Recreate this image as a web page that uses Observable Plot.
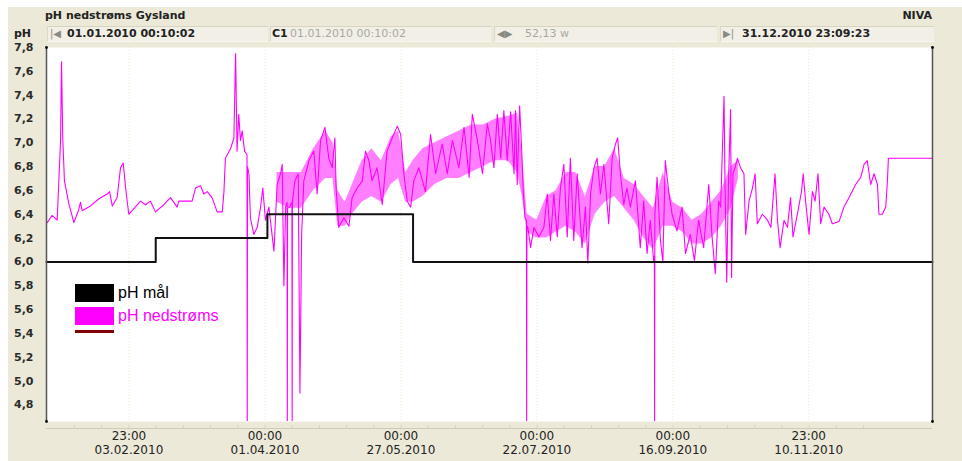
<!DOCTYPE html>
<html><head><meta charset="utf-8">
<script src="https://cdn.jsdelivr.net/npm/d3@7"></script>
<script src="https://cdn.jsdelivr.net/npm/@observablehq/plot@0.6"></script>
<style>
html,body{margin:0;padding:0;background:#fff;}
#wrap{position:relative;width:962px;height:461px;overflow:hidden;font-family:"DejaVu Sans",sans-serif;}
#panel{position:absolute;left:8px;top:7px;width:954px;height:454px;background:#ECE9D8;}
.t{position:absolute;white-space:nowrap;font-size:11px;font-weight:bold;color:#222;line-height:14px;}
.g{color:#a9a8a0;font-weight:normal;}
.ic{color:#8a8a84;font-size:10px;font-weight:normal;}
.box{position:absolute;top:26px;height:14px;background:#F2F0E6;border-top:1px solid #d8d4c2;border-bottom:1px solid #f8f7f0;border-left:1px solid #dcd8c8;}
#chart{position:absolute;left:0;top:40px;}
#legend{position:absolute;left:75px;top:284px;width:170px;height:49px;overflow:hidden;font-family:"Liberation Sans",Arial,sans-serif;font-size:16px;}
.li{height:18px;margin-bottom:5px;display:flex;align-items:center;white-space:nowrap;}
.sw{width:39px;height:18px;margin-right:4px;flex:none;}
</style>
</head><body>
<div id="wrap">
  <div id="panel"></div>
  <div class="t" style="left:45px;top:9px;">pH nedstrøms Gysland</div>
  <div class="t" style="right:30px;top:9px;">NIVA</div>
  <div class="t" style="left:14px;top:27px;">pH</div>
  <div class="box" style="left:47px;width:220px;"></div>
  <div class="box" style="left:270px;width:220px;"></div>
  <div class="box" style="left:494px;width:222px;"></div>
  <div class="box" style="left:720px;width:213px;"></div>
  <div class="t ic" style="left:50px;top:27px;">|◀</div>
  <div class="t" style="left:67px;top:27px;">01.01.2010 00:10:02</div>
  <div class="t" style="left:272px;top:27px;">C1</div>
  <div class="t g" style="left:290px;top:27px;">01.01.2010 00:10:02</div>
  <div class="t ic" style="left:497px;top:27px;">◀▶</div>
  <div class="t g" style="left:525px;top:27px;">52,13 w</div>
  <div class="t ic" style="left:723px;top:27px;">▶|</div>
  <div class="t" style="left:742px;top:27px;">31.12.2010 23:09:23</div>
  <div id="chart"></div>
  <div id="legend">
    <div class="li"><div class="sw" style="background:#000"></div><span style="color:#000">pH mål</span></div>
    <div class="li"><div class="sw" style="background:#ff00ff"></div><span style="color:#ff00ff">pH nedstrøms</span></div>
    <div class="li"><div class="sw" style="background:#800000"></div></div>
  </div>
</div>
<script>
// ---- data (days since 2010-01-01 00:00, pH) ----
const phDay = [0.3,2.3,4.4,5.8,6.2,6.7,7.4,9.2,11.3,13.3,14.0,14.7,18.1,21.6,25.0,26.0,27.1,29.1,30.5,31.6,32.6,33.9,35.3,38.7,40.8,42.8,44.9,48.3,51.1,53.8,54.5,60.0,61.4,63.4,64.8,66.2,68.2,70.3,72.4,73.1,73.7,75.8,77.2,77.9,78.5,79.2,79.9,80.6,81.6,82.6,82.7,82.8,83.4,84.0,85.4,86.8,88.2,89.1,90.2,
91.6,93.7,95.0,96.4,97.1,97.8,98.5,99.1,99.2,99.3,100.1,101.1,101.2,101.3,102.3,103.7,104.4,105.1,106.0,108.1,110.1,111.5,112.9,114.7,116.3,117.7,118.8,119.3,120.4,122.5,124.6,125.9,128.0,130.1,131.4,132.8,134.1,136.2,138.3,140.3,142.4,144.5,145.9,147.2,148.6,150.0,151.3,153.4,156.1,158.2,160.3,163.0,165.1,167.2,169.9,172.0,174.1,175.4,177.5,179.6,181.6,
182.9,184.3,185.7,187.1,188.4,189.8,191.2,192.6,193.2,193.9,194.9,195.7,196.4,197.1,197.7,197.8,197.9,198.3,199.4,200.8,202.8,204.9,206.3,207.6,209.0,210.4,211.7,213.1,214.5,215.8,217.2,218.6,220.6,222.0,223.0,224.1,225.5,226.8,228.2,229.6,231.6,233.0,234.4,235.3,236.4,237.8,239.1,240.5,242.6,244.6,246.0,247.4,248.7,250.1,250.4,250.5,250.6,251.5,252.9,253.9,254.9,256.3,257.7,259.7,261.8,263.2,265.2,266.9,268.6,270.7,272.8,274.1,275.5,276.9,
277.7,278.4,279.1,279.5,280.2,280.9,281.8,282.2,282.8,283.6,284.6,285.9,287.3,288.0,289.4,290.8,291.9,292.8,294.9,297.0,298.4,300.1,301.1,302.2,303.8,305.2,306.5,307.5,309.3,311.0,311.7,312.7,314.1,315.5,316.6,317.8,318.9,320.3,322.3,323.7,326.5,328.5,330.6,333.3,335.4,336.8,338.1,339.5,340.9,342.3,342.9,344.3,345.7,346.4,346.8,349.8,364.96];
const phValue = [6.33,6.39,6.35,7.02,7.68,7.04,6.68,6.49,6.33,6.44,6.50,6.43,6.47,6.53,6.57,6.59,6.47,6.54,6.79,6.83,6.62,6.40,6.43,6.51,6.48,6.51,6.42,6.48,6.54,6.46,6.51,6.51,6.62,6.64,6.57,6.59,6.54,6.42,6.42,6.59,6.87,6.95,7.04,7.75,6.93,7.24,7.02,7.10,6.93,6.90,4.60,6.80,6.74,6.37,6.23,6.29,6.46,6.62,6.35,
6.46,6.09,6.65,6.74,6.82,5.80,6.46,6.50,4.60,6.45,6.46,6.50,4.60,6.50,6.68,6.74,4.90,6.23,6.68,6.85,6.93,6.57,7.02,7.13,6.87,6.79,7.04,6.62,6.29,6.37,6.30,6.54,6.62,6.68,6.93,6.85,6.68,6.79,6.48,6.93,7.04,7.14,7.07,6.74,6.51,6.46,6.68,6.79,6.59,7.07,6.74,6.99,6.74,7.02,6.79,7.13,6.71,7.24,7.02,6.74,7.16,
7.02,6.79,7.24,6.87,7.27,6.85,7.26,6.74,7.27,6.65,7.31,6.96,6.59,6.37,6.35,4.60,6.30,6.29,6.12,6.29,6.21,6.29,6.57,6.18,6.57,6.21,6.62,6.82,6.21,6.87,6.18,6.74,6.12,6.46,5.99,6.57,6.79,6.87,6.57,6.82,6.32,6.87,6.99,7.04,6.74,6.48,6.62,6.46,6.68,6.12,6.51,6.07,6.35,6.01,6.05,4.60,6.40,6.71,6.18,6.00,6.85,6.59,6.40,6.26,6.46,6.07,6.23,6.01,6.35,6.12,6.65,6.23,5.90,6.51,
6.46,6.93,7.39,6.65,5.83,6.65,7.28,5.87,6.74,6.79,6.87,6.79,6.74,6.23,6.51,6.62,6.74,6.32,6.40,6.35,6.29,6.74,6.35,6.12,6.35,6.29,6.54,6.21,6.40,6.59,6.74,6.51,6.23,6.59,6.51,6.74,6.32,6.46,6.40,6.32,6.34,6.46,6.54,6.65,6.71,6.82,6.85,6.65,6.74,6.65,6.40,6.40,6.46,6.68,6.87,6.87,6.87];

// envelope of the dense, oscillating part of the record
const bandDay  = [95,100,105,110,115,118,120,123,126,130,134,138,142,145,148,151,155,160,165,170,175,180,185,190,194,196,198,202,206,210,214,218,222,226,230,234,238,242,246,250,254,258,262,266,270,274,278,282,285];
const bandLow  = [6.50,6.45,6.45,6.60,6.70,6.70,6.30,6.30,6.40,6.50,6.55,6.50,6.65,6.70,6.50,6.50,6.55,6.65,6.70,6.70,6.75,6.80,6.85,6.85,6.75,6.55,6.25,6.20,6.20,6.25,6.30,6.25,6.15,6.40,6.50,6.55,6.45,6.35,6.20,6.10,6.30,6.30,6.25,6.15,6.15,6.20,6.30,6.45,6.70];
const bandHigh = [6.75,6.75,6.75,6.95,7.10,7.00,6.60,6.50,6.65,6.85,6.95,6.85,7.05,7.10,6.75,6.85,6.95,7.00,7.05,7.10,7.15,7.15,7.20,7.22,7.25,6.90,6.40,6.35,6.55,6.60,6.75,6.75,6.55,6.80,6.80,6.95,6.70,6.65,6.55,6.45,6.75,6.50,6.45,6.35,6.40,6.50,6.60,6.80,6.85];

// pH mål (target), step function
const goalDay   = [0.007, 45, 91, 151, 364.96];
const goalValue = [6.0, 6.2, 6.4, 6.0, 6.0];

// x tick labels
const tickTime = ["23:00","00:00","00:00","00:00","00:00","23:00"];
const tickDate = ["03.02.2010","01.04.2010","27.05.2010","22.07.2010","16.09.2010","10.11.2010"];

// y ticks
const yTicks = [4.8,5.0,5.2,5.4,5.6,5.8,6.0,6.2,6.4,6.6,6.8,7.0,7.2,7.4,7.6,7.8];

// ---- build ----
const t0 = Date.UTC(2010,0,1);
const dayToDate = d => new Date(t0 + d*864e5);
const xStart = new Date(Date.UTC(2010,0,1,0,10,2));
const xEnd = new Date(Date.UTC(2010,11,31,23,9,23));
const yMin = 4.66, yMax = 7.8;

const ph = phDay.map((d,i) => ({x: dayToDate(d), y: phValue[i]}));
const band = bandDay.map((d,i) => ({x: dayToDate(d), lo: bandLow[i], hi: bandHigh[i]}));
const goal = goalDay.map((d,i) => ({x: dayToDate(d), y: goalValue[i]}));
const parseTick = d3.utcParse("%d.%m.%Y %H:%M");
const ticks = tickDate.map((d,i) => ({x: parseTick(d + " " + tickTime[i]), time: tickTime[i], date: tickDate[i]}));
const step = (ticks[1].x - ticks[0].x) / 5;
const minor = d3.range(-2, 28).map(k => new Date(+ticks[0].x + k*step)).filter(d => d >= xStart && d <= xEnd);
const fmtY = d => d3.format(".1f")(d).replace(".", ",");

const chart = Plot.plot({
  width: 962, height: 421,
  marginTop: 7, marginBottom: 40, marginLeft: 46, marginRight: 30,
  style: {background: "transparent", fontFamily: "DejaVu Sans, sans-serif", fontSize: "11px", fontWeight: "bold", color: "#2a2a2a"},
  x: {type: "utc", domain: [xStart, xEnd], axis: null, label: null},
  y: {domain: [yMin, yMax], label: null},
  marks: [
    Plot.frame({fill: "white", stroke: "none"}),
    Plot.ruleX(ticks, {x: "x", stroke: "#efe8c8", strokeDasharray: "1,2"}),
    Plot.areaY(band, {x: "x", y1: "lo", y2: "hi", fill: "#ff00ff", fillOpacity: 0.5}),
    Plot.line(ph, {x: "x", y: "y", stroke: "#ff00ff", strokeWidth: 1.1, clip: true}),
    Plot.line(goal, {x: "x", y: "y", curve: "step-after", stroke: "#111", strokeWidth: 2}),
    Plot.ruleX([xStart, xEnd], {stroke: "#555", strokeWidth: 1.5}),
    Plot.dot([[xStart, yMax], [xEnd, yMax], [xStart, yMin], [xEnd, yMin]], {x: d => d[0], y: d => d[1], r: 1.4, fill: "#000", stroke: "none"}),
    Plot.ruleY([yMin], {dy: 7, stroke: "#cfcbb8"}),
    Plot.axisX(minor, {tickSize: 3, tickFormat: () => "", dy: 4, stroke: "#d8d4c2"}),
    Plot.axisY(yTicks, {tickSize: 0, tickPadding: 13, tickFormat: fmtY}),
    Plot.text(ticks, {x: "x", text: "time", frameAnchor: "bottom", dy: 18, fontWeight: "normal", fontSize: 12, fill: "#222"}),
    Plot.text(ticks, {x: "x", text: "date", frameAnchor: "bottom", dy: 32, fontWeight: "normal", fontSize: 12, fill: "#222"})
  ]
});
document.getElementById("chart").appendChild(chart);
</script>
</body></html>
